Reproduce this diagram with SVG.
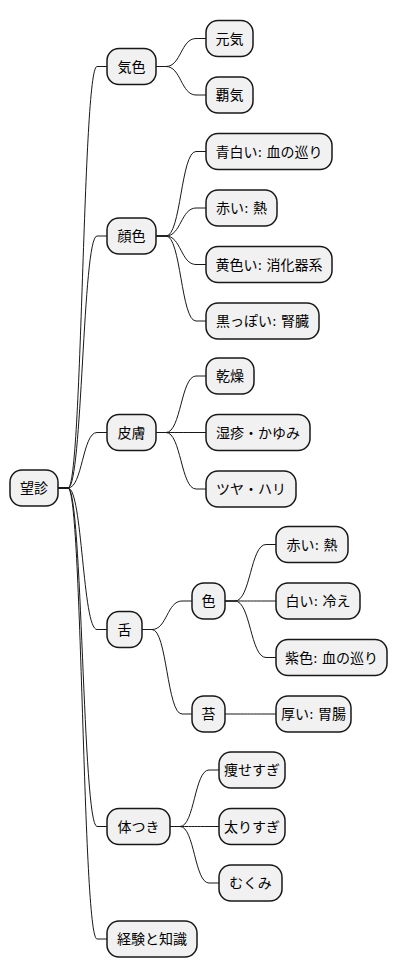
<svg xmlns="http://www.w3.org/2000/svg" width="400" height="978" viewBox="0 0 400 978">
<style>
.n rect{fill:#F1F1F1;stroke:#181818;stroke-width:1.5}
.n text{font-family:"DejaVu Sans","Noto Sans CJK JP",sans-serif;font-size:14px;fill:#000;text-anchor:middle}
#edges path{fill:none;stroke:#181818;stroke-width:1}
</style>
<rect width="400" height="978" fill="#FFFFFF"/>
<g id="edges">
<path d="M58,488 L68,488 C82.5,488 82.5,66.5 97,66.5 L107,66.5"/>
<path d="M58,488 L68,488 C82.5,488 82.5,236 97,236 L107,236"/>
<path d="M58,488 L68,488 C82.5,488 82.5,432.5 97,432.5 L107,432.5"/>
<path d="M58,488 L68,488 C82.5,488 82.5,629.5 97,629.5 L107,629.5"/>
<path d="M58,488 L68,488 C82.5,488 82.5,826.5 97,826.5 L107,826.5"/>
<path d="M58,488 L68,488 C82.5,488 82.5,939 97,939 L107,939"/>
<path d="M156,66.5 L166,66.5 C181,66.5 181,38.5 196,38.5 L206,38.5"/>
<path d="M156,66.5 L166,66.5 C181,66.5 181,95 196,95 L206,95"/>
<path d="M156,236 L166,236 C181,236 181,151.5 196,151.5 L206,151.5"/>
<path d="M156,236 L166,236 C181,236 181,208 196,208 L206,208"/>
<path d="M156,236 L166,236 C181,236 181,264.5 196,264.5 L206,264.5"/>
<path d="M156,236 L166,236 C181,236 181,321 196,321 L206,321"/>
<path d="M156,432.5 L166,432.5 C181,432.5 181,376 196,376 L206,376"/>
<path d="M156,432.5 L166,432.5 C181,432.5 181,432.5 196,432.5 L206,432.5"/>
<path d="M156,432.5 L166,432.5 C181,432.5 181,489 196,489 L206,489"/>
<path d="M142,629.5 L152,629.5 C167,629.5 167,601 182,601 L192,601"/>
<path d="M142,629.5 L152,629.5 C167,629.5 167,714 182,714 L192,714"/>
<path d="M225,601 L235,601 C250.5,601 250.5,544.5 266,544.5 L276,544.5"/>
<path d="M225,601 L235,601 C250.5,601 250.5,601 266,601 L276,601"/>
<path d="M225,601 L235,601 C250.5,601 250.5,657.5 266,657.5 L276,657.5"/>
<path d="M225,714 L235,714 C250.5,714 250.5,714 266,714 L276,714"/>
<path d="M170,826.5 L180,826.5 C194.5,826.5 194.5,770 209,770 L219,770"/>
<path d="M170,826.5 L180,826.5 C194.5,826.5 194.5,826.5 209,826.5 L219,826.5"/>
<path d="M170,826.5 L180,826.5 C194.5,826.5 194.5,883 209,883 L219,883"/>
</g>
<g id="root" class="n"><rect x="10" y="470" width="48" height="36" rx="12"/><text x="34" y="493">望診</text></g>
<g id="kishoku" class="n"><rect x="107" y="48.5" width="49" height="36" rx="12"/><text x="131.5" y="71.5">気色</text></g>
<g id="genki" class="n"><rect x="206" y="20.5" width="47" height="36" rx="12"/><text x="229.5" y="43.5">元気</text></g>
<g id="haki" class="n"><rect x="206" y="77" width="47" height="36" rx="12"/><text x="229.5" y="100">覇気</text></g>
<g id="kaoiro" class="n"><rect x="107" y="218" width="49" height="36" rx="12"/><text x="131.5" y="241">顔色</text></g>
<g id="aojiroi" class="n"><rect x="206" y="133.5" width="126" height="36" rx="12"/><text x="269" y="156.5">青白い: 血の巡り</text></g>
<g id="akai1" class="n"><rect x="206" y="190" width="71" height="36" rx="12"/><text x="241.5" y="213">赤い: 熱</text></g>
<g id="kiiroi" class="n"><rect x="206" y="246.5" width="126" height="36" rx="12"/><text x="269" y="269.5">黄色い: 消化器系</text></g>
<g id="kuroppoi" class="n"><rect x="206" y="303" width="113" height="36" rx="12"/><text x="262.5" y="326">黒っぽい: 腎臓</text></g>
<g id="hifu" class="n"><rect x="107" y="414.5" width="49" height="36" rx="12"/><text x="131.5" y="437.5">皮膚</text></g>
<g id="kansou" class="n"><rect x="206" y="358" width="48" height="36" rx="12"/><text x="230" y="381">乾燥</text></g>
<g id="shisshin" class="n"><rect x="206" y="414.5" width="104" height="36" rx="12"/><text x="258" y="437.5">湿疹・かゆみ</text></g>
<g id="tsuya" class="n"><rect x="206" y="471" width="90" height="36" rx="12"/><text x="251" y="494">ツヤ・ハリ</text></g>
<g id="shita" class="n"><rect x="107" y="611.5" width="35" height="36" rx="12"/><text x="124.5" y="634.5">舌</text></g>
<g id="iro" class="n"><rect x="192" y="583" width="33" height="36" rx="12"/><text x="208.5" y="606">色</text></g>
<g id="akai2" class="n"><rect x="276" y="526.5" width="72" height="36" rx="12"/><text x="312" y="549.5">赤い: 熱</text></g>
<g id="shiroi" class="n"><rect x="276" y="583" width="84" height="36" rx="12"/><text x="318" y="606">白い: 冷え</text></g>
<g id="murasaki" class="n"><rect x="276" y="639.5" width="111" height="36" rx="12"/><text x="331.5" y="662.5">紫色: 血の巡り</text></g>
<g id="koke" class="n"><rect x="192" y="696" width="33" height="36" rx="12"/><text x="208.5" y="719">苔</text></g>
<g id="atsui" class="n"><rect x="276" y="696" width="75" height="36" rx="12"/><text x="313.5" y="719">厚い: 胃腸</text></g>
<g id="karadatsuki" class="n"><rect x="107" y="808.5" width="63" height="36" rx="12"/><text x="138.5" y="831.5">体つき</text></g>
<g id="yase" class="n"><rect x="219" y="752" width="66" height="36" rx="12"/><text x="252" y="775">痩せすぎ</text></g>
<g id="futori" class="n"><rect x="219" y="808.5" width="66" height="36" rx="12"/><text x="252" y="831.5">太りすぎ</text></g>
<g id="mukumi" class="n"><rect x="219" y="865" width="63" height="36" rx="12"/><text x="250.5" y="888">むくみ</text></g>
<g id="keiken" class="n"><rect x="107" y="921" width="90" height="36" rx="12"/><text x="152" y="944">経験と知識</text></g>
</svg>
